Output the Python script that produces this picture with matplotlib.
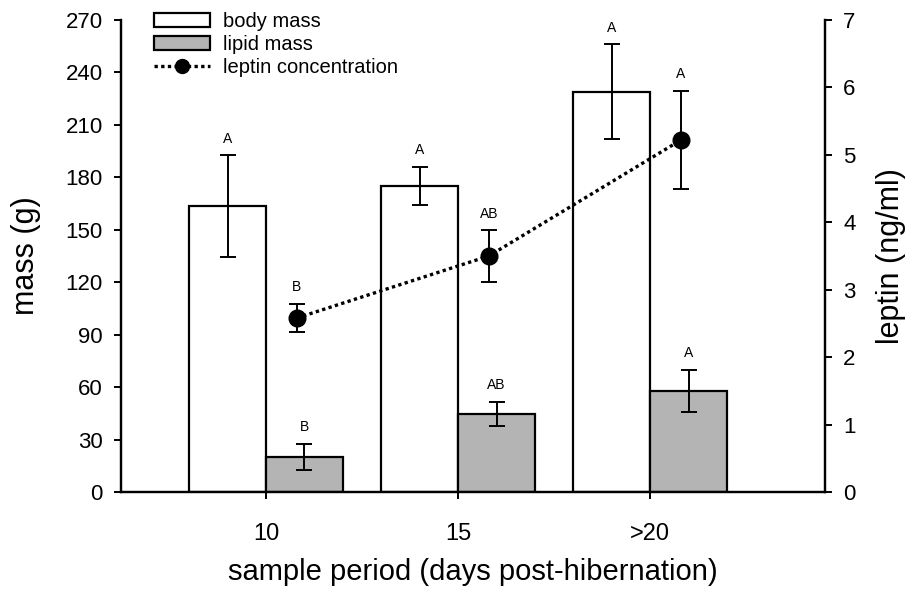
import matplotlib
matplotlib.use("Agg")
import matplotlib.pyplot as plt
import numpy as np
from matplotlib.lines import Line2D
from matplotlib.patches import Patch

plt.rcParams["font.family"] = ["Liberation Sans", "DejaVu Sans"]

# data
categories = ["10", "15", ">20"]
body_mass = [163.5, 175, 229]
body_err = [29, 11, 27]
lipid_mass = [20, 44.5, 58]
lipid_err = [7.5, 7, 12]
leptin = [2.58, 3.50, 5.22]
leptin_err = [0.21, 0.38, 0.73]
body_letters = ["A", "A", "A"]
lipid_letters = ["B", "AB", "A"]
leptin_letters = ["B", "AB", "A"]

xs = np.arange(len(categories))
width = 0.40

fig = plt.figure(figsize=(9.18, 5.97), dpi=100)
ax = fig.add_axes([121 / 918, 1 - 492 / 597, 704 / 918, 472 / 597])
ax2 = ax.twinx()

ax.bar(xs - width / 2, body_mass, width, color="white", edgecolor="black", linewidth=1.6, zorder=2)
ax.bar(xs + width / 2, lipid_mass, width, color="#b4b4b4", edgecolor="black", linewidth=1.6, zorder=2)
ax.errorbar(xs - width / 2, body_mass, yerr=body_err, fmt="none", ecolor="black",
            elinewidth=1.4, capsize=6, capthick=1.4, zorder=3)
ax.errorbar(xs + width / 2, lipid_mass, yerr=lipid_err, fmt="none", ecolor="black",
            elinewidth=1.4, capsize=6, capthick=1.4, zorder=3)

lx = xs + 0.16
ax2.errorbar(lx, leptin, yerr=leptin_err, fmt="none", ecolor="black",
             elinewidth=1.4, capsize=6, capthick=1.4, zorder=3)
ax2.plot(lx, leptin, color="black", linestyle=(0, (1, 1)), linewidth=2.4,
         marker="o", markersize=12, zorder=4)

# significance letters
for x, v, e, t in zip(xs - width / 2, body_mass, body_err, body_letters):
    ax.annotate(t, (x, v + e), xytext=(0, 7), textcoords="offset points",
                ha="center", va="bottom", fontsize=10)
for x, v, e, t in zip(xs + width / 2, lipid_mass, lipid_err, lipid_letters):
    ax.annotate(t, (x, v + e), xytext=(0, 7), textcoords="offset points",
                ha="center", va="bottom", fontsize=10)
for x, v, e, t in zip(lx, leptin, leptin_err, leptin_letters):
    ax2.annotate(t, (x, v + e), xytext=(0, 7), textcoords="offset points",
                 ha="center", va="bottom", fontsize=10)

ax.set_xlim(-0.755, 2.91)
ax.set_ylim(0, 270)
ax.set_yticks(np.arange(0, 271, 30))
ax2.set_ylim(0, 7)
ax2.set_yticks(np.arange(0, 8, 1))
ax.set_xticks(xs)
ax.set_xticklabels(categories)

for a in (ax, ax2):
    a.spines["top"].set_visible(False)
    for s in a.spines.values():
        s.set_linewidth(1.6)
    a.tick_params(direction="out", length=5, width=1.4, labelsize=16, pad=8)
ax.tick_params(axis="x", labelsize=17, pad=17)

ax.set_xlabel("sample period (days post-hibernation)", fontsize=21, labelpad=10)
ax.set_ylabel("mass (g)", fontsize=22, labelpad=18)
ax2.set_ylabel("leptin (ng/ml)", fontsize=22, labelpad=15)

handles = [
    Patch(facecolor="white", edgecolor="black", linewidth=1.6),
    Patch(facecolor="#b4b4b4", edgecolor="black", linewidth=1.6),
    Line2D([0], [0], color="black", linestyle=(0, (1, 1)), linewidth=2.4, marker="o", markersize=10),
]
fig.legend(handles, ["body mass", "lipid mass", "leptin concentration"],
           loc="upper left", bbox_to_anchor=(140 / 918, 1 + 2 / 597), frameon=False,
           fontsize=14.5, handlelength=2.8, handleheight=0.7, handletextpad=0.6,
           labelspacing=0.2, borderpad=0.2)

fig.savefig("out.png", dpi=100)
